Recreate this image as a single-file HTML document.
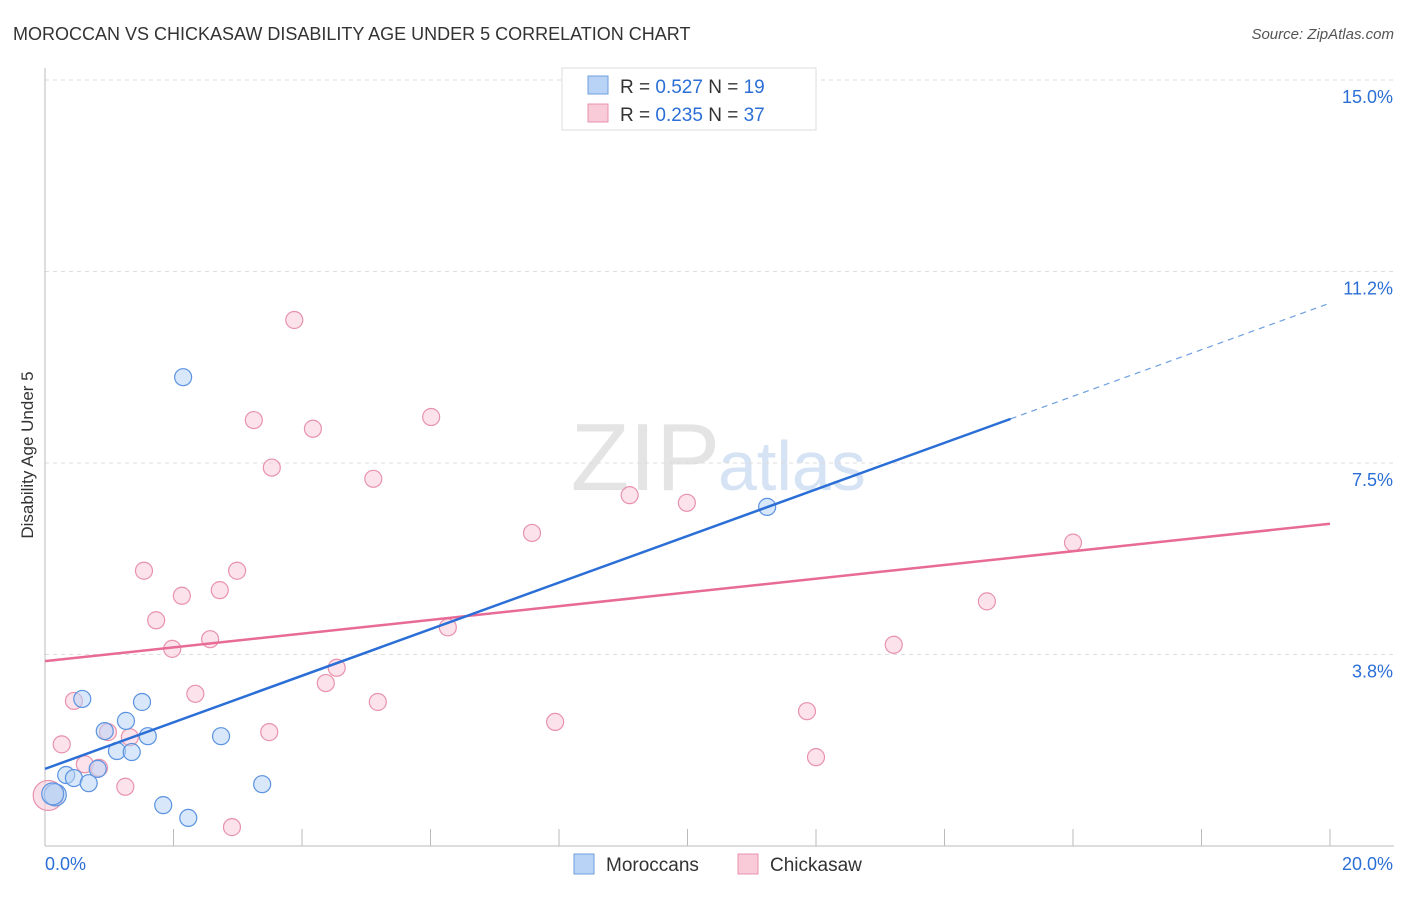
<!DOCTYPE html>
<html><head><meta charset="utf-8"><style>
body{margin:0;background:#fff;font-family:"Liberation Sans",sans-serif}
svg text{font-family:"Liberation Sans",sans-serif}
</style></head><body>
<svg id="c" width="1406" height="892">
<text x="13" y="40" font-size="18" fill="#333">MOROCCAN VS CHICKASAW DISABILITY AGE UNDER 5 CORRELATION CHART</text>
<text x="1394" y="39" font-size="15" fill="#555" font-style="italic" text-anchor="end">Source: ZipAtlas.com</text>
<text x="33" y="455" font-size="17" fill="#333" transform="rotate(-90 33 455)" text-anchor="middle">Disability Age Under 5</text>
<text x="720" y="490" font-size="96" fill="#e4e4e4" text-anchor="end" font-family="Liberation Serif">ZIP</text>
<text x="718" y="490" font-size="70" fill="#d5e3f5">atlas</text>
<g id="grid"></g><g id="axes"></g><g id="marks"></g>
<g>
<rect x="562" y="68" width="254" height="62" fill="#fff" stroke="#ddd"/>
<rect x="588" y="76" width="20" height="18" fill="#b8d3f5" stroke="#6d9fe0"/>
<rect x="588" y="104" width="20" height="18" fill="#f9cad8" stroke="#e892ac"/>
<text x="620" y="93" font-size="19" fill="#333">R = <tspan fill="#2b6fd6">0.527</tspan>   N = <tspan fill="#2b6fd6">19</tspan></text>
<text x="620" y="121" font-size="19" fill="#333">R = <tspan fill="#2b6fd6">0.235</tspan>   N = <tspan fill="#2b6fd6">37</tspan></text>
</g>
<g>
<rect x="574" y="854" width="20" height="20" fill="#b8d3f5" stroke="#6d9fe0"/>
<text x="606" y="871" font-size="19" fill="#333">Moroccans</text>
<rect x="738" y="854" width="20" height="20" fill="#f9cad8" stroke="#e892ac"/>
<text x="770" y="871" font-size="19" fill="#333">Chickasaw</text>
</g>
</svg>
<script>
const xTicks=[0,20];
const yTicks=[3.75,7.5,11.25,15];
const yTickLabels=["3.8%","7.5%","11.2%","15.0%"];
const moroccansX=[2.15,11.24,0.58,1.51,1.26,0.93,1.60,2.74,1.12,1.35,0.33,0.45,0.68,0.82,1.84,3.38,2.23,0.16,0.12];
const moroccansY=[9.18,6.64,2.88,2.82,2.45,2.25,2.15,2.15,1.86,1.84,1.39,1.33,1.23,1.51,0.80,1.21,0.55,1.0,1.02];
const chickasawX=[3.88,3.25,4.17,6.01,3.53,5.11,9.10,9.99,7.58,16.00,1.54,2.99,2.13,2.72,1.73,14.66,6.27,2.57,1.98,13.21,4.54,4.37,2.34,0.45,5.18,7.94,11.86,0.98,3.49,1.32,0.26,0.62,0.84,12.00,1.25,2.91,0.05];
const chickasawY=[10.30,8.34,8.17,8.40,7.41,7.19,6.87,6.72,6.13,5.94,5.39,5.39,4.90,5.01,4.42,4.79,4.28,4.05,3.86,3.94,3.49,3.19,2.98,2.84,2.82,2.43,2.64,2.23,2.23,2.13,1.99,1.60,1.53,1.74,1.16,0.37,0.99];
const moroccansFit=[1.51,10.63];
const chickasawFit=[3.62,6.31];
const NS="http://www.w3.org/2000/svg";
const X=v=>45+v*64.25, Y=v=>846-v*51.07;
function mk(t,a,p){const e=document.createElementNS(NS,t);for(const k in a)e.setAttribute(k,a[k]);p.appendChild(e);return e;}
const grid=document.getElementById('grid'),axes=document.getElementById('axes'),marks=document.getElementById('marks');
mk('line',{x1:45,y1:68,x2:45,y2:846,stroke:'#bbb'},axes);
mk('line',{x1:45,y1:846,x2:1394,y2:846,stroke:'#bbb'},axes);
for(let i=1;i<=10;i++){mk('line',{x1:45+i*128.5,y1:829,x2:45+i*128.5,y2:846,stroke:'#bbb'},axes);}
yTicks.forEach((v,i)=>{
 const g=mk('line',{x1:45,y1:Y(v),x2:1394,y2:Y(v),stroke:'#ddd','stroke-dasharray':'4,4'},grid);
 
 const t=mk('text',{x:1393,y:Y(v)+23,'font-size':18,fill:'#2b6fd6','text-anchor':'end'},axes);t.textContent=yTickLabels[i];
 
});
xTicks.forEach(v=>{const t=mk('text',{x:v==0?45:1393,y:870,'font-size':18,fill:'#2b6fd6','text-anchor':v==0?'start':'end'},axes);t.textContent=v.toFixed(1)+'%';
 });
function pts(xs,ys,fill,stroke,name){xs.forEach((x,i)=>{const big=(x<0.2);
 const c=mk('circle',{cx:X(x),cy:Y(ys[i]),r:big?(name=='chickasaw-point'?15:11):8.5,fill:fill,'fill-opacity':big?0.6:0.55,stroke:stroke,'stroke-width':1.2},marks);
 });}
pts(chickasawX,chickasawY,'#f9cad8','#e892ac','chickasaw-point');
pts(moroccansX,moroccansY,'#b8d3f5','#5b93e0','moroccan-point');
const pl=mk('line',{x1:X(0),y1:Y(chickasawFit[0]),x2:X(20),y2:Y(chickasawFit[1]),stroke:'#e76b96','stroke-width':2.5},marks);

const f=15.03,ym=moroccansFit[0]+(moroccansFit[1]-moroccansFit[0])*f/20;
const bl=mk('line',{x1:X(0),y1:Y(moroccansFit[0]),x2:X(f),y2:Y(ym),stroke:'#2b6fd6','stroke-width':2.5},marks);

const bd=mk('line',{x1:X(f),y1:Y(ym),x2:X(20),y2:Y(moroccansFit[1]),stroke:'#6d9fe0','stroke-width':1.2,'stroke-dasharray':'6,5'},marks);

</script>
</body></html>
